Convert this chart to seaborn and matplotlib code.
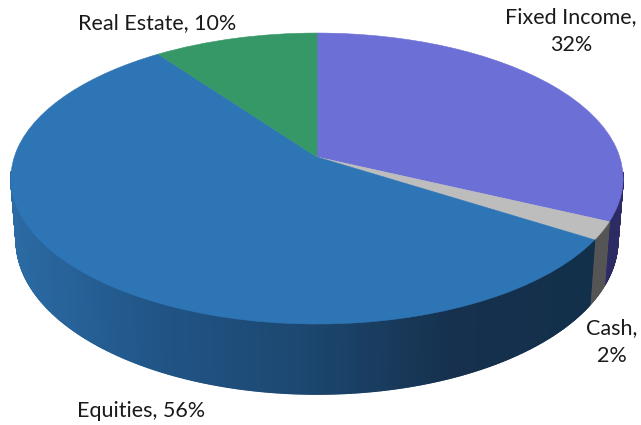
import numpy as np
import matplotlib
matplotlib.use("Agg")
import matplotlib.pyplot as plt
import seaborn as sns
from matplotlib.collections import PolyCollection
from matplotlib.colors import LinearSegmentedColormap
from matplotlib.transforms import Transform

# data
categories = ["Fixed Income", "Cash", "Equities", "Real Estate"]
shares = [32, 2, 56, 10]
top_colors = ["#6B6FD6", "#BDBDBD", "#2E75B6", "#359866"]
wall_dark = {"Fixed Income": "#2D2B63", "Cash": "#555555", "Real Estate": "#1F5C3C"}
label_text = ["Fixed Income,\n32%", "Cash,\n2%", "Equities, 56%", "Real Estate, 10%"]
label_xy = [(571, 31), (612, 342), (141, 411), (157, 23)]

CX, K = 317, 0.148
TOP = (302.7, 157, 142.3)      # x radius, apex y, y scale
BOTTOM = (297.5, 217.5, 150.5)


class Tilt(Transform):
    # flat pie -> tilted disc with perspective
    input_dims = output_dims = 2
    is_affine = False

    def __init__(self, rx, y0, ry):
        super().__init__()
        self.rx, self.y0, self.ry = rx, y0, ry

    def transform_non_affine(self, xy):
        xy = np.asarray(xy, dtype=float)
        d = 1 + K * xy[:, 1]
        return np.column_stack([CX + self.rx * xy[:, 0] / d, self.y0 - self.ry * xy[:, 1] / d])


sns.set_theme(style="white")
plt.rcParams["font.family"] = ["Lato", "DejaVu Sans"]

fig = plt.figure(figsize=(6.41, 4.25), dpi=100)
ax = fig.add_axes([0, 0, 1, 1])

# side wall, only the front half shows
blue_wall = LinearSegmentedColormap.from_list("wall", ["#2C6CA6", "#215587", "#1C4770", "#16304D", "#12304A"])
top_tf, bottom_tf = Tilt(*TOP), Tilt(*BOTTOM)
edges = np.cumsum([0] + shares) / sum(shares) * 2 * np.pi
polys, cols = [], []
for i, name in enumerate(categories):
    t = np.linspace(edges[i], edges[i + 1], max(int(shares[i] * 12), 6) + 1)
    unit = np.column_stack([np.sin(t), np.cos(t)])
    up, low = top_tf.transform(unit), bottom_tf.transform(unit)
    for j in range(len(t) - 1):
        if unit[j, 1] > -0.1:
            continue
        polys.append([up[j], up[j + 1], low[j + 1], low[j]])
        if name == "Equities":
            cols.append(blue_wall((up[j, 0] + up[j + 1, 0]) / 2 / 610))
        else:
            cols.append(wall_dark[name])
ax.add_collection(PolyCollection(polys, facecolors=cols, edgecolors=cols, linewidths=1.0, zorder=1))

# top of the pie
wedges, _ = ax.pie(shares, colors=top_colors, startangle=90, counterclock=False, radius=1)
for w in wedges:
    w.set_transform(top_tf + ax.transData)
    w.set_edgecolor(w.get_facecolor())
    w.set_linewidth(0.4)
    w.set_zorder(2)

for txt, (x, y) in zip(label_text, label_xy):
    ax.text(x, y, txt, ha="center", va="center", fontsize=15.5, color="#1A1A1A", linespacing=1.55, zorder=3)

ax.set_aspect("auto")
ax.set_xlim(0, 641)
ax.set_ylim(425, 0)
ax.axis("off")

fig.savefig("out.png", dpi=100)
